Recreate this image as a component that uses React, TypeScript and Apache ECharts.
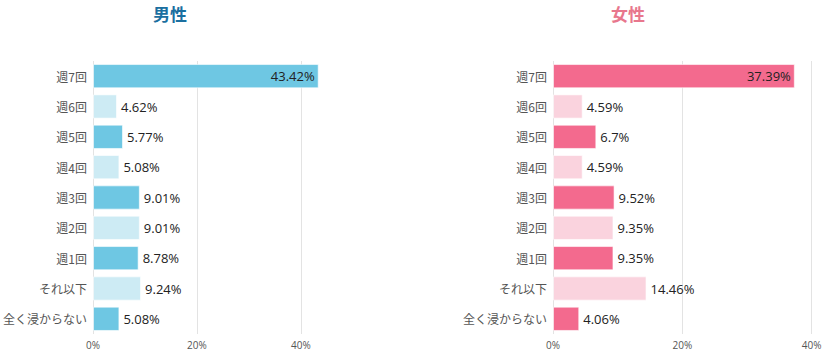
import React, { useEffect, useRef } from "react";
import * as echarts from "echarts";

const categories = ["週7回", "週6回", "週5回", "週4回", "週3回", "週2回", "週1回", "それ以下", "全く浸からない"];
const maleValues = [43.42, 4.62, 5.77, 5.08, 9.01, 9.01, 8.78, 9.24, 5.08];
const femaleValues = [37.39, 4.59, 6.7, 4.59, 9.52, 9.35, 9.35, 14.46, 4.06];
const maleTitle = "男性";
const femaleTitle = "女性";
const maleColors = ["#6EC7E3", "#CDEBF4"];
const femaleColors = ["#F36A8E", "#FAD3DE"];

export default function App() {
  const ref = useRef<HTMLDivElement>(null);
  useEffect(() => {
    if (!ref.current) return;
    const chart = echarts.init(ref.current, undefined, { renderer: "svg" });
    const font = "'Noto Sans CJK JP', 'Noto Sans', sans-serif";
    const numFont = "'Open Sans', 'Noto Sans', sans-serif";
    const mkData = (vals: number[], colors: string[]) =>
      vals.map((v, i) => ({
        value: v,
        itemStyle: { color: colors[i % 2] },
        label: i === 0 ? { position: "insideRight" } : undefined,
      }));
    const xAxis = (gridIndex: number, max: number) => ({
      type: "value",
      gridIndex,
      min: 0,
      max,
      interval: 20,
      axisLine: { show: false },
      axisTick: { show: false },
      axisLabel: {
        formatter: "{value}%",
        color: "#555",
        fontSize: 10,
        fontFamily: numFont,
        showMaxLabel: max === 40,
        margin: 6,
      },
      splitLine: { show: true, lineStyle: { color: "#e3e3e3", width: 1 }, showMaxLine: max === 40 },
    });
    const yAxis = (gridIndex: number) => ({
      type: "category",
      gridIndex,
      data: categories,
      inverse: true,
      axisLine: { show: false },
      axisTick: { show: false },
      axisLabel: { color: "#555", fontSize: 12, fontFamily: font, margin: 6 },
    });
    const seriesBase = {
      type: "bar",
      barCategoryGap: "20%",
      label: {
        show: true,
        position: "right",
        formatter: (p: any) => `${p.value}%`,
        color: "#222",
        fontSize: 13,
        fontFamily: numFont,
        distance: 4,
      },
      itemStyle: { borderColor: "rgba(255,255,255,0.6)", borderWidth: 1 },
    };
    chart.setOption({
      animation: false,
      graphic: [
        {
          type: "text",
          x: 170,
          y: 13,
          style: {
            text: maleTitle,
            fill: "#1B6FA0",
            font: `bold 17px ${font}`,
            align: "center",
            verticalAlign: "middle",
          },
        },
        {
          type: "text",
          x: 628,
          y: 13,
          style: {
            text: femaleTitle,
            fill: "#E8778D",
            font: `bold 17px ${font}`,
            align: "center",
            verticalAlign: "middle",
          },
        },
      ],
      grid: [
        { left: 93, top: 61, width: 225.7, height: 273 },
        { left: 553, top: 61, width: 258.7, height: 273 },
      ],
      xAxis: [xAxis(0, 43.42), xAxis(1, 40)],
      yAxis: [yAxis(0), yAxis(1)],
      series: [
        { ...seriesBase, xAxisIndex: 0, yAxisIndex: 0, data: mkData(maleValues, maleColors) },
        { ...seriesBase, xAxisIndex: 1, yAxisIndex: 1, data: mkData(femaleValues, femaleColors) },
      ],
    });
    return () => chart.dispose();
  }, []);
  return (
    <div
      ref={ref}
      style={{ position: "fixed", left: 0, top: 0, width: 830, height: 355, background: "#fff" }}
    />
  );
}
